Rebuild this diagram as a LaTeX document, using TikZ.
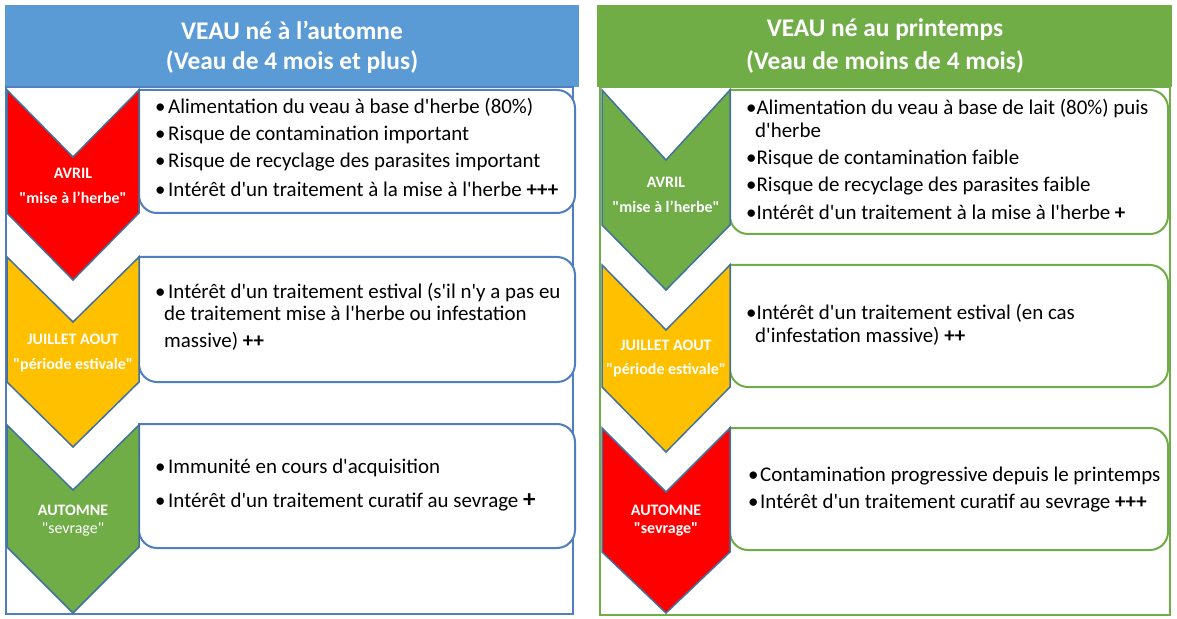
\documentclass[tikz,border=0pt]{standalone}
\usepackage{fontspec}
\setmainfont{Carlito}[Ligatures=TeXOff]

\definecolor{bleuhaut}{HTML}{5B9BD5}
\definecolor{verthaut}{HTML}{70AD47}
\definecolor{bleucadre}{HTML}{4F7FC0}
\definecolor{bordchev}{HTML}{41719C}
\definecolor{chevrouge}{HTML}{FF0000}
\definecolor{chevjaune}{HTML}{FFC000}
\definecolor{chevvert}{HTML}{70AD47}

\tikzset{
  cadre/.style={line width=2bp},
  bloc/.style={fill=white, line width=2bp, rounded corners=18bp},
  chevron/.style={draw=bordchev, line width=1.5bp},
  titre/.style={text=white, font=\bfseries\fontsize{25.5}{30}\selectfont},
  periode/.style={text=white, font=\bfseries\fontsize{16}{19}\selectfont},
  puce/.style={anchor=base west, inner sep=0pt, font=\fontsize{21}{25}\selectfont},
}
\newcommand{\pt}[1][13bp]{\makebox[#1][l]{•}}

\begin{document}
\begin{tikzpicture}[x=1bp,y=-1bp]
    \useasboundingbox (0,0) rectangle (1177,619);

    % Colonne 1 : veau ne a l'automne
    % En-tete et cadre
    \fill[bleuhaut] (5,5) rectangle (579,87);
    \draw[cadre, bleucadre] (6,87) rectangle (573,614);
    \node[titre] (tg1) at (292,30) {VEAU né à l’automne};
    \node[titre] (tg2) at (292,62) {(Veau de 4 mois et plus)};

    % Blocs
    \draw[bloc, draw=bleucadre] (139,90) -- (575,90) -- (575,213) -- (139,213) [sharp corners] -- cycle;
    \draw[bloc, draw=bleucadre] (139,257) -- (575,257) -- (575,382) -- (139,382) [sharp corners] -- cycle;
    \draw[bloc, draw=bleucadre] (139,424) -- (575,424) -- (575,548) -- (139,548) [sharp corners] -- cycle;

    % Chevrons
    \draw[chevron, fill=chevrouge] (7,90) -- (73,157) -- (139,90) -- (139,213) -- (73,280) -- (7,213) -- cycle;
    \draw[chevron, fill=chevjaune] (7,257) -- (73,322) -- (139,257) -- (139,382) -- (73,447) -- (7,382) -- cycle;
    \draw[chevron, fill=chevvert] (7,425) -- (73,490) -- (139,425) -- (139,547) -- (73,613) -- (7,547) -- cycle;

    \node[periode] (cg1a) at (73,173) {AVRIL};
    \node[periode] (cg1b) at (73,198) {"mise à l’herbe"};
    \node[periode] (cg2a) at (73,339) {JUILLET AOUT};
    \node[periode] (cg2b) at (73,365) {"période estivale"};
    \node[periode] (cg3a) at (73,510) {AUTOMNE};
    \node[periode, font=\fontsize{16}{19}\selectfont] (cg3b) at (73,529) {"sevrage"};

    % Textes
    \node[puce] (l1a) at (155,114) {\pt Alimentation du veau à base d'herbe (80\%)};
    \node[puce] (l1b) at (155,141) {\pt Risque de contamination important};
    \node[puce] (l1c) at (155,168) {\pt Risque de recyclage des parasites important};
    \node[puce] (l1d) at (155,197) {\pt Intérêt d'un traitement à la mise à l'herbe \textbf{+++}};
    \node[puce] (l2a) at (155,299) {\pt Intérêt d'un traitement estival (s'il n'y a pas eu};
    \node[puce] (l2b) at (164,321) {de traitement mise à l'herbe ou infestation};
    \node[puce] (l2c) at (164,348) {massive) \textbf{++}};
    \node[puce] (l3a) at (155,473) {\pt Immunité en cours d'acquisition};
    \node[puce] (l3b) at (155,507) {\pt Intérêt d'un traitement curatif au sevrage {\bfseries\fontsize{25}{25}\selectfont+}};

    % Colonne 2 : veau ne au printemps
    % En-tete et cadre
    \fill[verthaut] (597,5) rectangle (1172,87);
    \draw[cadre, verthaut] (600,87) rectangle (1170,615);
    \node[titre] (td1) at (885,30) {VEAU né au printemps};
    \node[titre] (td2) at (885,62) {(Veau de moins de 4 mois)};

    % Blocs
    \draw[bloc, draw=verthaut] (730,90) -- (1168,90) -- (1168,234) -- (730,234) [sharp corners] -- cycle;
    \draw[bloc, draw=verthaut] (730,265) -- (1168,265) -- (1168,387) -- (730,387) [sharp corners] -- cycle;
    \draw[bloc, draw=verthaut] (730,428) -- (1168,428) -- (1168,550) -- (730,550) [sharp corners] -- cycle;

    % Chevrons
    \draw[chevron, fill=chevvert] (602,90) -- (666,160) -- (730,90) -- (730,225) -- (666,290) -- (602,225) -- cycle;
    \draw[chevron, fill=chevjaune] (602,265) -- (666,330) -- (730,265) -- (730,387) -- (666,452) -- (602,387) -- cycle;
    \draw[chevron, fill=chevrouge] (602,428) -- (666,492) -- (730,428) -- (730,552) -- (666,613) -- (602,552) -- cycle;

    \node[periode] (cd1a) at (666,182) {AVRIL};
    \node[periode] (cd1b) at (666,207) {"mise à l’herbe"};
    \node[periode] (cd2a) at (666,345) {JUILLET AOUT};
    \node[periode] (cd2b) at (666,370) {"période estivale"};
    \node[periode] (cd3a) at (666,510) {AUTOMNE};
    \node[periode] (cd3b) at (666,529) {"sevrage"};

    % Textes
    \node[puce] (r1a) at (746,115) {•Alimentation du veau à base de lait (80\%) puis};
    \node[puce] (r1b) at (755,138) {d'herbe};
    \node[puce] (r1c) at (746,165) {•Risque de contamination faible};
    \node[puce] (r1d) at (746,192) {•Risque de recyclage des parasites faible};
    \node[puce] (r1e) at (746,220) {•Intérêt d'un traitement à la mise à l'herbe \textbf{+}};
    \node[puce] (r2a) at (746,320) {•Intérêt d'un traitement estival (en cas};
    \node[puce] (r2b) at (755,343) {d'infestation massive) \textbf{++}};
    \node[puce] (r3a) at (748,481) {\pt[12bp]Contamination progressive depuis le printemps};
    \node[puce] (r3b) at (748,508) {\pt[12bp]Intérêt d'un traitement curatif au sevrage \textbf{+++}};

\end{tikzpicture}
\end{document}
